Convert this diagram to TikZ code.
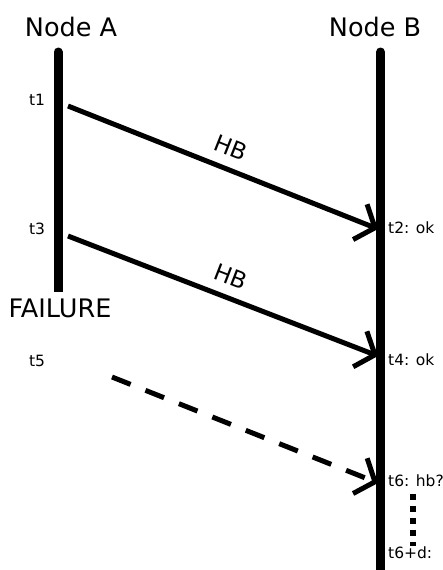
\documentclass[tikz,border=0pt]{standalone}
\usepackage{fontspec}
\setmainfont{DejaVu Sans}
\usetikzlibrary{arrows.meta}
\begin{document}
\begin{tikzpicture}[x=1pt,y=-1pt,
  lifeline/.style={line width=9pt},
  msg/.style={line width=5pt,-{Straight Barb[length=16pt,width=38pt,line width=5pt]}},
  big/.style={font=\fontsize{25.5}{28}\selectfont},
  small/.style={font=\fontsize{15.5}{18}\selectfont},
  hb/.style={font=\fontsize{23}{26}\selectfont, sloped, above=7pt}]
\useasboundingbox (0,0) rectangle (442,570);
\node[big] (na) at (71,27) {Node A};
\node[big] (nb) at (375,27) {Node B};
\coordinate (atop) at (58,52);
\coordinate (amid) at (58,100);
\coordinate (abot) at (58,292);
\coordinate (btop) at (380.5,52);
\coordinate (bmid) at (380.5,100);
\coordinate (bbot) at (380.5,572);
\draw[lifeline,line cap=round] (amid) -- (atop);
\draw[lifeline] (amid) -- (abot);
\draw[lifeline,line cap=round] (bmid) -- (btop);
\draw[lifeline] (bmid) -- (bbot);
\node[small] (t1) at (37,100) {t1};
\node[small] (t3) at (37,229) {t3};
\node[small] (t5) at (37,361) {t5};
\node[big] (fail) at (60,308) {FAILURE};
\coordinate (s1) at (68,106);
\coordinate (e1) at (378,229);
\coordinate (s2) at (68,236);
\coordinate (e2) at (378,356);
\coordinate (s3) at (112,377);
\coordinate (e3) at (378,483);
\draw[msg] (s1) -- node[hb] (hb1) {HB} (e1);
\draw[msg] (s2) -- node[hb] (hb2) {HB} (e2);
\draw[msg,dash pattern=on 20pt off 16pt] (s3) -- (e3);
\node[small,anchor=west,inner sep=0pt] (l2) at (388,228) {t2: ok};
\node[small,anchor=west,inner sep=0pt] (l4) at (388,360) {t4: ok};
\node[small,anchor=west,inner sep=0pt] (l6) at (388,481) {t6: hb?};
\node[small,anchor=west,inner sep=0pt] (l7) at (388,553) {t6+d:};
\draw[line width=6pt,dash pattern=on 6pt off 6pt] (412.7,494) -- (412.7,546);
\end{tikzpicture}
\end{document}
